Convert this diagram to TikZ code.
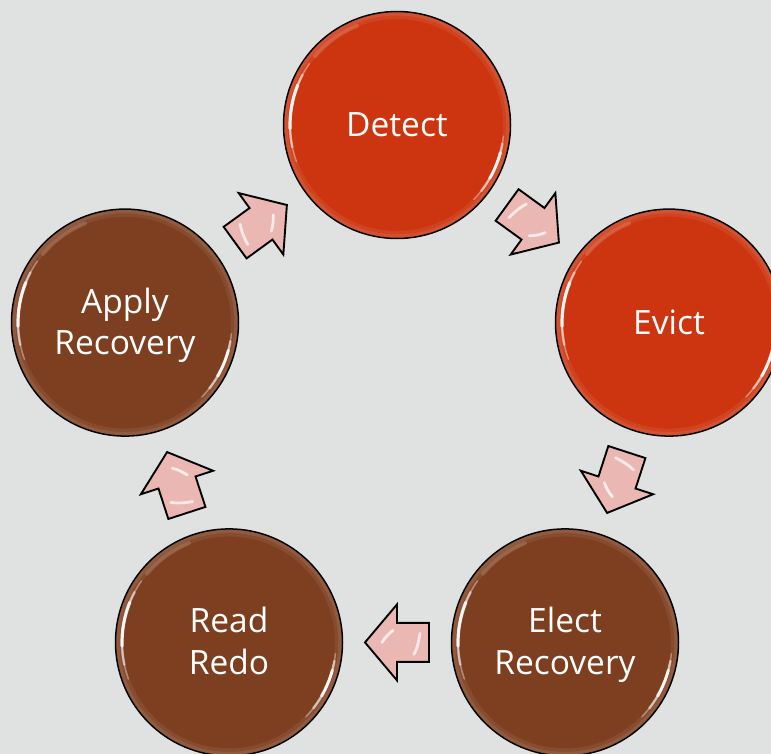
\documentclass[tikz,border=0pt]{standalone}
\usepackage{fontspec}
\setmainfont{Open Sans}
\usetikzlibrary{calc}
\definecolor{bg}{HTML}{E0E2E2}
\definecolor{redc}{HTML}{CC3510}
\definecolor{brownc}{HTML}{7E3F20}
\definecolor{arrowc}{HTML}{EAB7B2}
\tikzset{
  stage/.style={circle, draw=black, line width=1.5pt, minimum size=227pt, inner sep=0pt,
    text=white, font=\fontsize{33.5}{41.5}\selectfont, align=center},
  redstage/.style={stage, fill=redc},
  brownstage/.style={stage, fill=brownc, text depth=3pt},
  blockarrow/.style={fill=arrowc, draw=black, line width=1.9pt, line join=miter},
  glare/.style={white, line cap=round},
}
\newcommand\glossy[1]{%
  \begin{scope}[shift={(#1.center)}]
    \draw[white, opacity=0.07, line width=7pt] (0,0) circle (109.5);
    \draw[white, opacity=0.08, line width=3pt] (0,0) circle (111);
    \draw[glare, opacity=0.35, line width=1.5pt] (145:107) arc (145:200:107);
    \draw[glare, opacity=0.5, line width=2.5pt] (152:107) arc (152:192:107);
    \draw[glare, opacity=0.85, line width=3.2pt] (158:107) arc (158:182:107);
    \draw[glare, opacity=0.35, line width=1.5pt] (-6:107) arc (-6:-44:107);
    \draw[glare, opacity=0.5, line width=2.5pt] (-10:107) arc (-10:-38:107);
    \draw[glare, opacity=0.85, line width=3pt] (-15:107) arc (-15:-30:107);
    \draw[glare, opacity=0.15, line width=4pt] (112:107) arc (112:140:107);
  \end{scope}}
\newcommand\blockarr[2]{% position coordinate, angle
  \begin{scope}[shift={(#1)}, rotate=#2]
    \draw[blockarrow] (-32,-19.5) -- (0,-19.5) -- (0,-38) -- (32,0) -- (0,38) -- (0,19.5) -- (-32,19.5) -- cycle;
    \draw[glare, opacity=0.7, line width=2.8pt] (-17,12) .. controls (-21,4) and (-22,-3) .. (-23,-9);
    \draw[glare, opacity=0.75, line width=2.8pt] (15,0) .. controls (12,-5) and (8,-9) .. (4,-12);
  \end{scope}}
\begin{document}
\begin{tikzpicture}[x=1pt, y=1pt]
  \useasboundingbox (0,0) rectangle (771,-754);
  \clip (0,0) rectangle (771,-754);
  \fill[bg] (0,0) rectangle (771,-754);
  \node[redstage] (detect) at (397,-125) {Detect};
  \node[redstage] (evict) at (669,-322.6) {Evict};
  \node[brownstage] (elect) at (565,-642.4) {Elect\\Recovery};
  \node[brownstage] (read) at (229,-642.4) {Read\\Redo};
  \node[brownstage] (apply) at (125,-322.6) {Apply\\Recovery};
  \foreach \n in {detect,evict,elect,read,apply} {\glossy{\n}}
  \coordinate (a1) at ($(detect.center)!0.5!(evict.center)$);
  \coordinate (a2) at ($(evict.center)!0.5!(elect.center)$);
  \coordinate (a3) at ($(elect.center)!0.5!(read.center)$);
  \coordinate (a4) at ($(read.center)!0.5!(apply.center)$);
  \coordinate (a5) at ($(apply.center)!0.5!(detect.center)$);
  \blockarr{a1}{-36}
  \blockarr{a2}{-108}
  \blockarr{a3}{180}
  \blockarr{a4}{108}
  \blockarr{a5}{36}
\end{tikzpicture}
\end{document}
